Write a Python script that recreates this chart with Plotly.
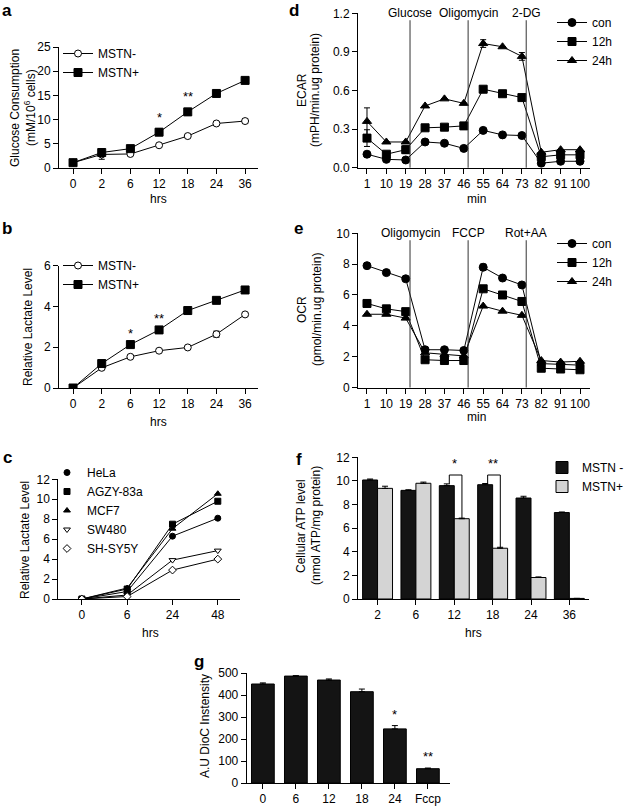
import plotly.graph_objects as go

# ---- data ----
hours_a = ["0", "2", "6", "12", "18", "24", "36"]
glucose_neg = [1.1, 2.8, 2.9, 4.7, 6.6, 9.2, 9.7]
glucose_neg_err = [0.2, 1.0, 0.3, 0.3, 0.3, 0.3, 0.5]
glucose_pos = [1.1, 3.2, 4.0, 7.4, 11.6, 15.4, 18.1]
glucose_pos_err = [0.2, 0.5, 0.3, 0.7, 0.7, 0.4, 0.4]
glucose_sig = ["", "", "", "*", "**", "", ""]

lactate_neg = [0, 0.99, 1.53, 1.83, 1.99, 2.64, 3.61]
lactate_neg_err = [0, 0.05, 0.05, 0.05, 0.05, 0.15, 0.08]
lactate_pos = [0, 1.2, 2.13, 2.85, 3.8, 4.3, 4.81]
lactate_sig = ["", "", "*", "**", "", "", ""]

hours_c = ["0", "6", "24", "48"]
cell_lines = ["HeLa", "AGZY-83a", "MCF7", "SW480", "SH-SY5Y"]
hela = [0, 0.75, 6.3, 8.1]
agzy = [0, 1.0, 7.5, 9.8]
mcf7 = [0, 1.1, 7.05, 10.55]
sw480 = [0, 0.4, 3.9, 4.85]
shsy5y = [0, 0.25, 2.9, 4.0]

minutes = [1, 10, 19, 28, 37, 46, 55, 64, 73, 82, 91, 100]
ecar_con = [0.105, 0.065, 0.06, 0.20, 0.19, 0.15, 0.29, 0.255, 0.25, 0.035, 0.05, 0.05]
ecar_12h = [0.23, 0.105, 0.14, 0.31, 0.315, 0.325, 0.61, 0.575, 0.545, 0.085, 0.10, 0.10]
ecar_24h = [0.36, 0.20, 0.20, 0.48, 0.535, 0.50, 0.965, 0.94, 0.865, 0.12, 0.14, 0.14]
ecar_con_err = [0.02, 0.01, 0.01, 0, 0, 0, 0, 0, 0, 0, 0, 0]
ecar_12h_err = [0.065, 0, 0.03, 0, 0, 0, 0, 0, 0, 0, 0, 0]
ecar_24h_err = [0.105, 0, 0, 0, 0, 0, 0.03, 0, 0.03, 0, 0, 0]
ecar_injections = [21, 48, 75]
ecar_drugs = ["Glucose", "Oligomycin", "2-DG"]

ocr_con = [7.9, 7.45, 7.05, 2.45, 2.45, 2.4, 7.8, 7.1, 6.65, 1.55, 1.5, 1.45]
ocr_12h = [5.45, 5.1, 4.92, 1.8, 1.75, 1.75, 6.4, 6.0, 5.58, 1.25, 1.2, 1.15]
ocr_24h = [4.75, 4.75, 4.5, 2.25, 2.15, 2.05, 5.28, 4.95, 4.68, 1.75, 1.65, 1.7]
ocr_con_err = [0.05, 0, 0, 0, 0, 0, 0.2, 0, 0, 0, 0, 0]
ocr_drugs = ["Oligomycin", "FCCP", "Rot+AA"]

atp_hours = ["2", "6", "12", "18", "24", "36"]
atp_neg = [10.08, 9.2, 9.6, 9.68, 8.55, 7.32]
atp_neg_err = [0.08, 0.05, 0.15, 0.1, 0.15, 0.05]
atp_pos = [9.37, 9.8, 6.8, 4.3, 1.82, 0.05]
atp_pos_err = [0.18, 0.1, 0.05, 0.08, 0.05, 0.0]
atp_sig = {2: "*", 3: "**"}

dioc_groups = ["0", "6", "12", "18", "24", "Fccp"]
dioc = [450, 486, 468, 415, 246, 65]
dioc_err = [5, 2, 5, 12, 15, 3]
dioc_sig = ["", "", "", "", "*", "**"]

# ---- page geometry (pixels) ----
W, H = 624, 806
FONT = "Liberation Sans, Arial, sans-serif"


def px(x):
    return x / W


def py(y):
    return 1 - y / H


# left, right, top, bottom of each plot area
boxes = {
    1: (59, 258, 47, 168),
    2: (59, 258, 265.7, 388),
    3: (58.3, 240, 479.3, 599),
    4: (358, 590, 13.3, 167.7),
    5: (358, 590, 233.3, 387.5),
    6: (358, 589.3, 457.3, 599),
    7: (246.7, 450, 673, 783),
}

fig = go.Figure()


def err(vals):
    return dict(type="data", array=vals, visible=True, color="black", thickness=1, width=3)


def line_trace(x, y, name, symbol, n, legend, size=7, error=None, showlegend=True, filled=True):
    return go.Scatter(
        x=x, y=y, name=name, mode="lines+markers",
        line=dict(color="black", width=1),
        marker=dict(symbol=symbol, size=size, color="black" if filled else "white",
                    line=dict(color="black", width=1)),
        error_y=err(error) if error is not None else None,
        xaxis="x%d" % n, yaxis="y%d" % n, legend=legend, showlegend=showlegend,
    )


# a
fig.add_trace(line_trace(hours_a, glucose_neg, "MSTN-", "circle", 1, "legend",
                         error=glucose_neg_err, filled=False))
fig.add_trace(line_trace(hours_a, glucose_pos, "MSTN+", "square", 1, "legend", size=8,
                         error=glucose_pos_err))
# b
fig.add_trace(line_trace(hours_a, lactate_neg, "MSTN-", "circle", 2, "legend2",
                         error=lactate_neg_err, filled=False))
fig.add_trace(line_trace(hours_a, lactate_pos, "MSTN+", "square", 2, "legend2", size=8))
# c
c_series = [hela, agzy, mcf7, sw480, shsy5y]
c_symbols = ["circle", "square", "triangle-up", "triangle-down", "diamond"]
c_filled = [True, True, True, False, False]
for name, vals, sym, fill in zip(cell_lines, c_series, c_symbols, c_filled):
    fig.add_trace(line_trace(hours_c, vals, name, sym, 3, "legend3", size=6,
                             showlegend=False, filled=fill))
for name, sym, fill in zip(cell_lines, c_symbols, c_filled):
    fig.add_trace(go.Scatter(x=[None], y=[None], name=name, mode="markers",
                             marker=dict(symbol=sym, size=6, color="black" if fill else "white",
                                         line=dict(color="black", width=1)),
                             xaxis="x3", yaxis="y3", legend="legend3"))
# d
for name, vals, sym, e in zip(["con", "12h", "24h"], [ecar_con, ecar_12h, ecar_24h],
                              ["circle", "square", "triangle-up"],
                              [ecar_con_err, ecar_12h_err, ecar_24h_err]):
    fig.add_trace(line_trace(minutes, vals, name, sym, 4, "legend4", size=8, error=e))
# e
for name, vals, sym, e in zip(["con", "12h", "24h"], [ocr_con, ocr_12h, ocr_24h],
                              ["circle", "square", "triangle-up"],
                              [ocr_con_err, None, None]):
    fig.add_trace(line_trace(minutes, vals, name, sym, 5, "legend5", size=8, error=e))
# f
bar_w = 0.39
fig.add_trace(go.Bar(x=atp_hours, y=atp_neg, name="MSTN -", marker=dict(color="#141414", line=dict(color="black", width=1)),
                     width=bar_w, offset=-bar_w,
                     error_y=dict(type="data", array=atp_neg_err, arrayminus=[0] * 6, symmetric=False,
                                  color="black", thickness=1, width=3),
                     xaxis="x6", yaxis="y6", legend="legend6"))
fig.add_trace(go.Bar(x=atp_hours, y=atp_pos, name="MSTN+", marker=dict(color="#d4d4d4", line=dict(color="black", width=1)),
                     width=bar_w, offset=0,
                     error_y=dict(type="data", array=atp_pos_err, arrayminus=[0] * 6, symmetric=False,
                                  color="black", thickness=1, width=3),
                     xaxis="x6", yaxis="y6", legend="legend6"))
# g
fig.add_trace(go.Bar(x=dioc_groups, y=dioc, width=0.69, marker=dict(color="#141414", line=dict(color="black", width=1)),
                     error_y=dict(type="data", array=dioc_err, arrayminus=[0] * 6, symmetric=False,
                                  color="black", thickness=1, width=3),
                     xaxis="x7", yaxis="y7", showlegend=False))

axis_style = dict(showline=True, linecolor="black", linewidth=1, ticks="outside", ticklen=5,
                  tickwidth=1, tickcolor="black", showgrid=False, zeroline=False,
                  tickfont=dict(size=12, color="black"), fixedrange=True, automargin=False)

x_ranges = {1: [-0.49, 6.45], 2: [-0.49, 6.45], 3: [-0.52, 3.49], 4: [-3.18, 104.65],
            5: [-3.18, 104.65], 6: [-0.51, 5.52], 7: [-0.49, 5.67]}
y_specs = {1: ([0, 25], 5, None), 2: ([0, 6], 2, None), 3: ([0, 12], 2, None),
           4: ([0, 1.2], 0.3, ".1f"), 5: ([0, 10], 2, None), 6: ([0, 12], 2, None),
           7: ([0, 500], 100, None)}

layout_axes = {}
for n, (l, r, t, b) in boxes.items():
    xs = "xaxis" if n == 1 else "xaxis%d" % n
    ys = "yaxis" if n == 1 else "yaxis%d" % n
    xa = dict(axis_style, domain=[px(l), px(r)], anchor="y%d" % n, range=x_ranges[n], tickangle=0)
    if n in (4, 5):
        xa.update(tickvals=minutes)
    else:
        xa.update(type="category")
    yr, dt, fmt = y_specs[n]
    ya = dict(axis_style, domain=[py(b), py(t)], anchor="x%d" % n, range=yr, dtick=dt)
    if fmt:
        ya.update(tickformat=fmt)
    layout_axes[xs] = xa
    layout_axes[ys] = ya

annotations = []


def note(text, x, y, size=12, angle=0, bold=False):
    annotations.append(dict(text="<b>%s</b>" % text if bold else text, x=px(x), y=py(y),
                            xref="paper", yref="paper", showarrow=False, textangle=angle,
                            xanchor="center", yanchor="middle",
                            font=dict(size=size, color="black", family=FONT)))


# panel letters
for letter, x, y in [("a", 7, 10), ("d", 294, 10), ("b", 7, 228), ("e", 298, 228),
                     ("c", 7, 457), ("f", 299, 460), ("g", 199, 661)]:
    note(letter, x, y, size=17, bold=True)

# axis titles
note("Glucose Consumption", 15, 108, angle=-90)
note("(mM/10<sup>6</sup> cells)", 30, 108, angle=-90)
note("Relative Lactate Level", 28, 327, angle=-90)
note("Relative Lactate Level", 25, 540, angle=-90)
note("ECAR", 302, 90, angle=-90)
note("(mPH/min.ug protein)", 315, 90, angle=-90)
note("OCR", 302, 310, angle=-90)
note("(pmol/min.ug protein)", 317, 310, angle=-90)
note("Cellular ATP level", 301, 526, angle=-90)
note("(nmol ATP/mg protein)", 316, 526, angle=-90)
note("A.U DioC Instensity", 205, 726, angle=-90)
note("hrs", 158, 199)
note("hrs", 158, 422)
note("hrs", 150, 633)
note("min", 477, 199)
note("min", 477, 417)
note("hrs", 473, 633)

# significance marks (x given as category index)
for n, ys, es, marks in [(1, glucose_pos, glucose_pos_err, glucose_sig),
                         (2, lactate_pos, [0] * 7, lactate_sig),
                         (7, dioc, dioc_err, dioc_sig)]:
    for i, (yv, ev, m) in enumerate(zip(ys, es, marks)):
        if m:
            annotations.append(dict(text=m, x=i, y=yv + ev, xref="x%d" % n, yref="y%d" % n,
                                    showarrow=False, yanchor="bottom", yshift=2,
                                    font=dict(size=13, color="black", family=FONT)))

shapes = []
# injection markers on seahorse traces
for n, drugs in [(4, ecar_drugs), (5, ocr_drugs)]:
    for xv, drug in zip(ecar_injections, drugs):
        shapes.append(dict(type="line", xref="x%d" % n, yref="y%d domain" % n,
                           x0=xv, x1=xv, y0=0, y1=0.955, line=dict(color="#333", width=1)))
        annotations.append(dict(text=drug, x=xv, y=1.0, xref="x%d" % n, yref="y%d domain" % n,
                                showarrow=False, yanchor="middle",
                                font=dict(size=12, color="black", family=FONT)))

# brackets on ATP bars
for i, m in atp_sig.items():
    top = 10.5
    x0, x1 = i - 0.13, i + 0.2
    shapes.append(dict(type="path", xref="x6", yref="y6",
                       path="M %f %f L %f %f L %f %f L %f %f" % (
                           x0, atp_neg[i] + atp_neg_err[i], x0, top, x1, top, x1, atp_pos[i] + atp_pos_err[i]),
                       fillcolor="rgba(0,0,0,0)", line=dict(color="black", width=1)))
    annotations.append(dict(text=m, x=i, y=top, xref="x6", yref="y6", showarrow=False,
                            yanchor="bottom", yshift=2, font=dict(size=13, color="black", family=FONT)))

legend_base = dict(bgcolor="rgba(0,0,0,0)", borderwidth=0, font=dict(size=12, color="black", family=FONT),
                   xanchor="left", yanchor="top", tracegroupgap=0, itemclick=False)

fig.update_layout(
    width=W, height=H, margin=dict(l=0, r=0, t=0, b=0, autoexpand=False),
    paper_bgcolor="white", plot_bgcolor="white",
    font=dict(family=FONT, color="black", size=12),
    annotations=annotations, shapes=shapes,
    legend=dict(legend_base, x=px(58), y=py(39)),
    legend2=dict(legend_base, x=px(58), y=py(251)),
    legend3=dict(legend_base, x=px(47), y=py(458)),
    legend4=dict(legend_base, x=px(552), y=py(8)),
    legend5=dict(legend_base, x=px(552), y=py(229)),
    legend6=dict(legend_base, x=px(542), y=py(453)),
    **layout_axes,
)

fig.write_html("out.html", config={"displayModeBar": False},
               post_script="document.body.style.margin='0';")
